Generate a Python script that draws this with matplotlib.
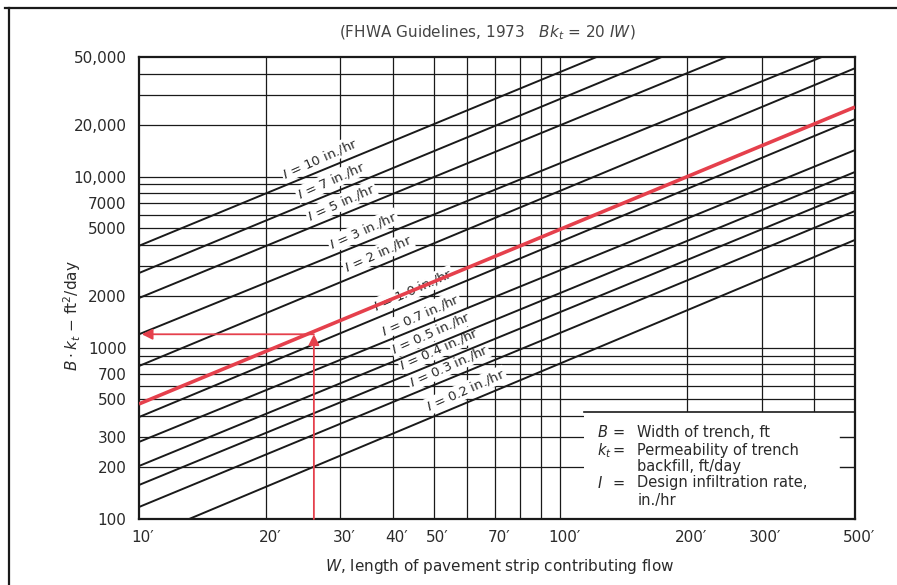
"""
FHWA 渗沟设计图 (B*k_t 与 W 的关系) 复刻
"""
import math
import matplotlib.pyplot as plt
from matplotlib.lines import Line2D
from matplotlib.patches import Rectangle
import matplotlib.transforms as mtransforms

plt.rcParams['font.family'] = ['DejaVu Sans']

# ---- 数据: 每条 I 线两端的 (W, B*k_t) ----
rates = ['10', '7', '5', '3', '2', '1.0', '0.7', '0.5', '0.4', '0.3', '0.2']
w_start = [10, 10, 10, 10, 10, 10, 10, 10, 10, 10, 13.15]
v_start = [3945, 2735, 1954, 1200, 783, 394, 282, 204, 158, 117.5, 100]
w_end = [121.8, 173.8, 247.8, 417, 500, 500, 500, 500, 500, 500, 500]
v_end = [50000, 50000, 50000, 50000, 43000, 21700, 14300, 10650, 8240, 6300, 4270]

# 红色示例线
red_w = [10, 500]
red_v = [470, 25500]
ex_w = 26
ex_v = 1200

x_ticks = [10, 20, 30, 40, 50, 70, 100, 200, 300, 500]
x_ticklabels = ["10\u2032", "20\u2032", "30\u2032", "40\u2032", "50\u2032", "70\u2032",
                "100\u2032", "200\u2032", "300\u2032", "500\u2032"]
y_ticks = [100, 200, 300, 500, 700, 1000, 2000, 5000, 7000, 10000, 20000, 50000]
y_ticklabels = ['100', '200', '300', '500', '700', '1000', '2000', '5000', '7000',
                '10,000', '20,000', '50,000']
x_grid = [20, 30, 40, 50, 60, 70, 80, 90, 100, 200, 300, 400]
y_grid = [200, 300, 400, 500, 600, 700, 800, 900,
          1000, 2000, 3000, 4000, 5000, 6000, 7000, 8000, 9000,
          10000, 20000, 30000, 40000]

# 标签沿线的位置 (W)
label_w = [27.5, 29.2, 30.9, 34.8, 37.8, 45.7, 47.5, 50.5, 52.8, 55.5, 61.0]

ink = '#1a1a1a'
text_c = '#2a2a2a'
red = '#e5404c'

fig = plt.figure(figsize=(8.97, 5.85), dpi=100)
ax = fig.add_axes([139 / 897, 1 - 519 / 585, 716 / 897, 462 / 585])
ax.set_xscale('log')
ax.set_yscale('log')
ax.set_xlim(10, 500)
ax.set_ylim(100, 50000)

# 网格
for g in x_grid:
    ax.axvline(g, color=ink, lw=0.9, zorder=1)
for g in y_grid:
    ax.axhline(g, color=ink, lw=0.9, zorder=1)

# I 线
for i in range(len(rates)):
    ax.plot([w_start[i], w_end[i]], [v_start[i], v_end[i]], color=ink, lw=1.4,
            zorder=4, solid_capstyle='butt')

# 线上标签
for i in range(len(rates)):
    lw_ = label_w[i]
    # 沿线对数插值求标签处的值
    t = (math.log(lw_) - math.log(w_start[i])) / (math.log(w_end[i]) - math.log(w_start[i]))
    lv = math.exp(math.log(v_start[i]) + t * (math.log(v_end[i]) - math.log(v_start[i])))
    ax.annotate(f'$I$ = {rates[i]} in./hr', xy=(lw_, lv), xytext=(-3, 8),
                textcoords='offset points', rotation=24, rotation_mode='anchor',
                ha='center', va='center', fontsize=9.5, color=text_c, zorder=3,
                bbox=dict(boxstyle='square,pad=0.08', fc='white', ec='none'))

# 红色示例
ax.plot(red_w, red_v, color=red, lw=2.6, zorder=5, solid_capstyle='butt')
ax.annotate('', xy=(ex_w, ex_v), xytext=(ex_w, 100),
            arrowprops=dict(arrowstyle='-|>', color=red, lw=1.3, mutation_scale=16,
                            shrinkA=0, shrinkB=0), zorder=6)
ax.annotate('', xy=(10.15, ex_v), xytext=(ex_w, ex_v),
            arrowprops=dict(arrowstyle='-|>', color=red, lw=1.3, mutation_scale=16,
                            shrinkA=0, shrinkB=0), zorder=6)

# 说明框
box_w0 = 114
box_top = 420
ax.add_patch(Rectangle((box_w0, 100), 500 - box_w0, box_top - 100, fc='white',
                       ec='none', zorder=2))
ax.plot([box_w0, 500], [box_top, box_top], color=ink, lw=1.2, zorder=2.2)
ax.plot([460, 500], [300, 300], color=ink, lw=1.0, zorder=2.2)
ax.plot([460, 500], [200, 200], color=ink, lw=1.0, zorder=2.2)

legend_rows = [
    (0.188, '$B$', '=', 'Width of trench, ft'),
    (0.149, '$k_t$', '=', 'Permeability of trench'),
    (0.113, '', '', 'backfill, ft/day'),
    (0.078, '$I$', '=', 'Design infiltration rate,'),
    (0.041, '', '', 'in./hr'),
]
for yy, sym, eq, txt in legend_rows:
    ax.text(0.640, yy, sym, transform=ax.transAxes, fontsize=10.5, color=text_c,
            va='center', ha='left', zorder=7)
    ax.text(0.662, yy, eq, transform=ax.transAxes, fontsize=10.5, color=text_c,
            va='center', ha='left', zorder=7)
    ax.text(0.696, yy, txt, transform=ax.transAxes, fontsize=10.5, color=text_c,
            va='center', ha='left', zorder=7)

# 坐标轴
ax.set_xticks(x_ticks)
ax.set_xticklabels(x_ticklabels)
ax.set_yticks(y_ticks)
ax.set_yticklabels(y_ticklabels)
ax.minorticks_off()
ax.tick_params(axis='both', length=0, labelsize=11, labelcolor=text_c)
ax.tick_params(axis='y', pad=9)
ax.tick_params(axis='x', pad=8)
shift = mtransforms.ScaledTranslation(4 / 100, 0, fig.dpi_scale_trans)
for lab in ax.get_xticklabels():
    lab.set_transform(lab.get_transform() + shift)
for sp in ax.spines.values():
    sp.set_color(ink)
    sp.set_linewidth(1.6)

ax.set_xlabel('$W$, length of pavement strip contributing flow', fontsize=11,
              color=text_c)
ax.xaxis.set_label_coords(0.503, -0.082)
ax.set_ylabel(r'$B\cdot k_t$ $-$ ft$^2$/day', fontsize=11, color=text_c)
ax.yaxis.set_label_coords(-0.078, 0.44)

fig.text(487 / 897, 1 - 33 / 585, r'(FHWA Guidelines, 1973   $Bk_t$ = 20 $IW$)',
         ha='center', va='center', fontsize=11, color='#444444')

# 外框线
fig.add_artist(Line2D([5 / 897, 1.0], [1 - 8 / 585, 1 - 8 / 585], color=ink, lw=1.6))
fig.add_artist(Line2D([9 / 897, 9 / 897], [1 - 8 / 585, 0.0], color=ink, lw=1.6))

fig.savefig('out.png', dpi=100)
